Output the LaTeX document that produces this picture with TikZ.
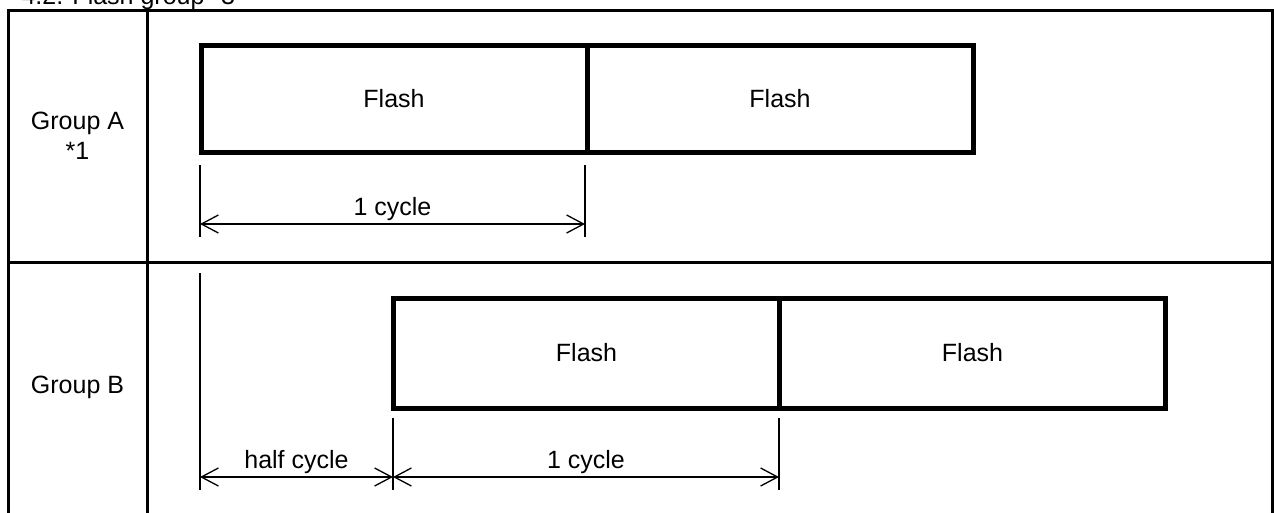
\documentclass[tikz,border=0pt]{standalone}
\usepackage{fontspec}
\setmainfont{Liberation Sans}
\usepackage{tikz}
\usetikzlibrary{fit,shapes,arrows,arrows.meta,positioning}
\tikzstyle{flash} = [draw, rectangle, line width=5pt, minimum width=386pt, minimum height=107pt, inner sep=0pt]
\tikzstyle{grouplabel} = [align=center]
\tikzstyle{grid} = [line width=3pt]
\tikzstyle{ext} = [line width=2pt]
\tikzstyle{dim} = [line width=1.3pt, {Straight Barb[length=17pt,width=18pt]}-{Straight Barb[length=17pt,width=18pt]}]
\tikzstyle{dimlabel} = [above, inner sep=3pt]

\begin{document}
\begin{tikzpicture}[x=1pt, y=-1pt, font=\fontsize{25}{30}\selectfont]
    \useasboundingbox (0,0) rectangle (1274,512);
    \clip (0,0) rectangle (1274,512);
    \node [anchor=base west] (title) at (18,4) {4.2. Flash group *3};
    % table
    \draw [grid] (8,530) -- (8,10) -- (1272,10) -- (1272,530);
    \draw [grid] (147,10) -- (147,530);
    \draw [grid] (8,262) -- (1272,262);
    \node [grouplabel] (ga) at (77.5,136) {Group A\\*1};
    \node [grouplabel] (gb) at (77.5,387) {Group B};
    % flashes
    \node [flash] (fa1) at (394,98.5) {Flash};
    \node [flash, right of=fa1, node distance=386pt] (fa2) {Flash};
    \node [flash, minimum height=110pt] (fb1) at (586.5,353) {Flash};
    \node [flash, minimum height=110pt, right of=fb1, node distance=386pt] (fb2) {Flash};
    % group A cycle
    \coordinate (a0t) at (200,165);
    \coordinate (a0b) at (200,237);
    \coordinate (a1t) at (585,165);
    \coordinate (a1b) at (585,237);
    \coordinate (a0) at (200,224);
    \coordinate (a1) at (585,224);
    \draw [ext] (a0t) -- (a0b);
    \draw [ext] (a1t) -- (a1b);
    \draw [dim] (a0) -- node [dimlabel] {1 cycle} (a1);
    % group B cycle
    \coordinate (b0t) at (200,273);
    \coordinate (b0b) at (200,490);
    \coordinate (b1t) at (393,418);
    \coordinate (b1b) at (393,490);
    \coordinate (b2t) at (779,418);
    \coordinate (b2b) at (779,490);
    \coordinate (b0) at (200,477);
    \coordinate (b1) at (393,477);
    \coordinate (b2) at (779,477);
    \draw [ext] (b0t) -- (b0b);
    \draw [ext] (b1t) -- (b1b);
    \draw [ext] (b2t) -- (b2b);
    \draw [dim] (b0) -- node [dimlabel] {half cycle} (b1);
    \draw [dim] (b1) -- node [dimlabel] {1 cycle} (b2);
\end{tikzpicture}
\end{document}
